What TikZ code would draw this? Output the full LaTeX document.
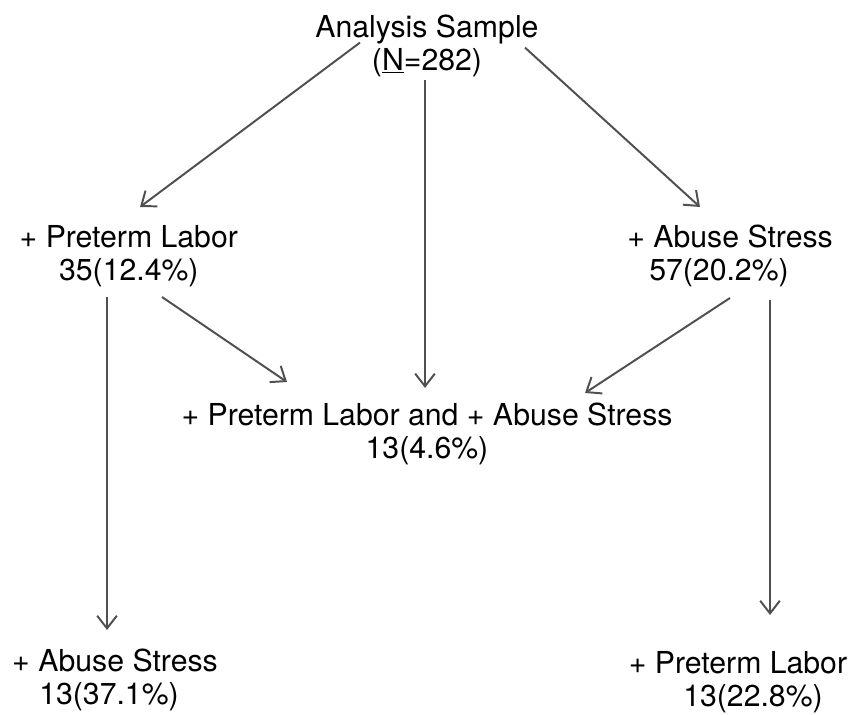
\documentclass[tikz,border=0pt]{standalone}
\usepackage{fontspec}
\setmainfont{TeX Gyre Heros}
\usetikzlibrary{arrows.meta}
\definecolor{FlowGray}{RGB}{80,80,80}

\tikzset{
	group/.style={align=center, inner sep=2pt, font=\fontsize{21.5}{23.5}\selectfont},
	flow/.style={FlowGray, line width=1.4pt, -{Straight Barb[length=9pt,width=14pt]}}
}

\begin{document}
\begin{tikzpicture}
		\useasboundingbox (0, 0) rectangle (21.35, -17.875);
		% groups
		\node[group] (sample) at (10.675, -1.14) {Analysis Sample\\(\underline{N}=282)};
		\node[group] (labor) at (3.22, -6.4) {+ Preterm Labor\\35(12.4\%)};
		\node[group] (abuse) at (18.25, -6.4) {+ Abuse Stress\\57(20.2\%)\hspace*{0.55cm}};
		\node[group] (both) at (10.675, -10.85) {+ Preterm Labor and + Abuse Stress\\13(4.6\%)};
		\node[group] (laborabuse) at (2.875, -17.0) {+ Abuse Stress\\13(37.1\%)\hspace*{0.3cm}};
		\node[group] (abuselabor) at (18.45, -17.05) {+ Preterm Labor\\\hspace*{0.75cm}13(22.8\%)};
		% arrows
		\draw[flow] ([shift={(-1.675, 0.075)}]sample.center) -- ([shift={(0.28, 1.225)}]labor.center);
		\draw[flow] ([shift={(-0.05, 0)}]sample.south) -- ([shift={(-0.05, 0.3)}]both.north);
		\draw[flow] ([shift={(2.45, -0.05)}]sample.center) -- ([shift={(-0.75, 1.225)}]abuse.center);
		\draw[flow] ([shift={(0.83, -1.025)}]labor.center) -- ([shift={(-3.5, 1.3)}]both.center);
		\draw[flow] ([shift={(-0.545, -1.025)}]labor.center) -- ([shift={(-0.2, 1.25)}]laborabuse.center);
		\draw[flow] ([shift={(0, -1.05)}]abuse.center) -- ([shift={(3.95, 1.025)}]both.center);
		\draw[flow] ([shift={(1.0, -1.1)}]abuse.center) -- ([shift={(0.8, 1.675)}]abuselabor.center);
	\end{tikzpicture}
\end{document}
